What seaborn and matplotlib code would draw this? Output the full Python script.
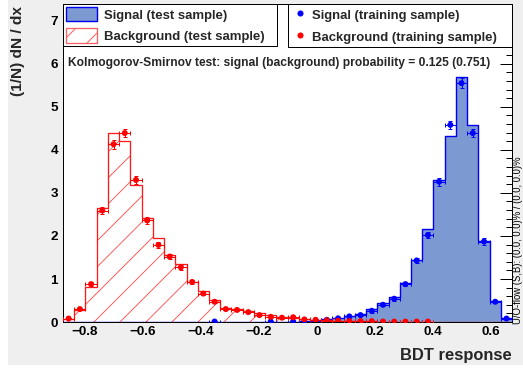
import numpy as np
import pandas as pd
import matplotlib
matplotlib.use("Agg")
import matplotlib.pyplot as plt
import seaborn as sns
from matplotlib.patches import Patch, Rectangle
from matplotlib.lines import Line2D
from matplotlib.ticker import MultipleLocator, FuncFormatter

# ---------------- data ----------------
x_min, x_max, n_bins = -0.876, 0.672, 40

bkg_test = [0.06, 0.28, 0.81, 2.65, 4.40, 4.21, 3.19, 2.41, 1.96, 1.56,
            1.34, 0.92, 0.71, 0.50, 0.33, 0.30, 0.26, 0.20, 0.16, 0.11,
            0.09, 0.07, 0.05, 0.03, 0.02, 0.02, 0.015, 0.01, 0.01, 0.01,
            0.008, 0.005, 0.005, 0, 0, 0, 0, 0, 0, 0]
bkg_train = [0.08, 0.30, 0.88, 2.59, 4.13, 4.39, 3.30, 2.36, 1.79, 1.52,
             1.27, 0.93, 0.66, 0.47, 0.30, 0.28, 0.23, 0.16, 0.12, 0.10,
             0.11, 0.06, 0.05, 0.04, 0.03, 0.02, 0.02, 0.02, 0.01, 0.01,
             0.01, 0.01, 0.01, np.nan, np.nan, np.nan, np.nan, np.nan, np.nan, np.nan]
bkg_err = [0.02, 0.03, 0.05, 0.08, 0.10, 0.10, 0.09, 0.08, 0.07, 0.06,
           0.06, 0.05, 0.04, 0.04, 0.03, 0.03, 0.03, 0.02, 0.02, 0.02,
           0.02, 0.015, 0.015, 0.01, 0.01, 0.01, 0.01, 0.01, 0.01, 0.01,
           0.01, 0.01, 0.01, 0, 0, 0, 0, 0, 0, 0]
sig_test = [0, 0, 0, 0, 0, 0, 0, 0, 0, 0,
            0, 0, 0, 0.005, 0, 0, 0, 0, 0.005, 0.005,
            0.01, 0.015, 0.03, 0.06, 0.10, 0.14, 0.19, 0.30, 0.43, 0.58,
            0.90, 1.44, 2.16, 3.30, 4.33, 5.70, 4.57, 1.89, 0.49, 0.09]
sig_train = [np.nan] * 13 + [0.01] + [np.nan] * 4 + [0.01, np.nan] + \
            [0.01, 0.01, 0.03, 0.05, 0.085, 0.13, 0.16, 0.26, 0.40, 0.54,
             0.88, 1.43, 2.02, 3.26, 4.58, 5.55, 4.39, 1.87, 0.47, 0.08]
sig_err = [0] * 13 + [0.01] + [0] * 4 + [0.01, 0] + \
          [0.01, 0.01, 0.015, 0.02, 0.02, 0.03, 0.03, 0.04, 0.04, 0.05,
           0.05, 0.06, 0.07, 0.09, 0.10, 0.12, 0.10, 0.07, 0.03, 0.02]

ks_text = "Kolmogorov-Smirnov test: signal (background) probability = 0.125 (0.751)"
flow_text = "U/O-flow (S,B): (0.0, 0.0)% / (0.0, 0.0)%"

# ---------------- style ----------------
DPI = 78
P = 72.0 / DPI  # points per pixel

def px(v):
    return v * P

sns.set_theme(style="white")
plt.rcParams["font.family"] = ["Liberation Sans", "DejaVu Sans"]
plt.rcParams["hatch.linewidth"] = px(1.0)
plt.rcParams["axes.unicode_minus"] = True

W, H = 523, 372
fig = plt.figure(figsize=(W / DPI + 0.001, H / DPI + 0.001), dpi=DPI)
fig.patch.set_facecolor("white")
fig.patches.append(Rectangle((8 / W, 7 / H), 1, 1, transform=fig.transFigure,
                             facecolor="#efefef", edgecolor="none", zorder=-10))

ax = fig.add_axes([63 / W, 1 - 322 / H, (512 - 63) / W, (322 - 4) / H])
ax.set_facecolor("white")

edges = np.linspace(x_min, x_max, n_bins + 1)
centers = 0.5 * (edges[:-1] + edges[1:])
bw = edges[1] - edges[0]

df = pd.DataFrame({
    "center": centers,
    "sig_test": sig_test, "bkg_test": bkg_test,
    "sig_train": sig_train, "bkg_train": bkg_train,
    "sig_err": sig_err, "bkg_err": bkg_err,
})

SIG_FILL = "#7d99d1"
SIG_LINE = "#0000ee"
BKG_LINE = "#ff1a1a"
HATCH_C = "#ff6060"
hist_kw = dict(x="center", bins=n_bins, binrange=(x_min, x_max), element="step", ax=ax)

# signal test histogram
sns.histplot(data=df, weights="sig_test", fill=True, color=SIG_FILL, facecolor=SIG_FILL,
             edgecolor="none", alpha=1, linewidth=0, **hist_kw)
sns.histplot(data=df, weights="sig_test", fill=False, color=SIG_LINE,
             linewidth=px(1.4), **hist_kw)
# background test histogram (hatched)
sns.histplot(data=df, weights="bkg_test", fill=True, color=HATCH_C, facecolor="none",
             edgecolor=HATCH_C, hatch="/", linewidth=0, **hist_kw)
sns.histplot(data=df, weights="bkg_test", fill=False, color=BKG_LINE,
             linewidth=px(1.3), **hist_kw)

# training points with error bars
for ycol, ecol, c in [("sig_train", "sig_err", "#0000ff"), ("bkg_train", "bkg_err", "#ff0000")]:
    d = df.dropna(subset=[ycol])
    ax.errorbar(d["center"], d[ycol], yerr=d[ecol], xerr=bw / 2, fmt="none",
                ecolor=c, elinewidth=px(1.0), capsize=px(2), capthick=px(1.0), zorder=4)
    sns.scatterplot(data=d, x="center", y=ycol, color=c, s=px(6) ** 2,
                    edgecolor="none", linewidth=0, ax=ax, legend=False, zorder=5)

# ---------------- axes ----------------
ax.set_xlim(x_min, x_max)
ax.set_ylim(0, 7.39)
ax.xaxis.set_major_locator(MultipleLocator(0.2))
ax.xaxis.set_minor_locator(MultipleLocator(0.05))
ax.yaxis.set_major_locator(MultipleLocator(1))
ax.yaxis.set_minor_locator(MultipleLocator(0.2))

def xfmt(v, pos):
    if abs(v) < 1e-9:
        return "0"
    s = f"{v:.1f}"
    return s.replace("-", "\u2212")

ax.xaxis.set_major_formatter(FuncFormatter(xfmt))
ax.yaxis.set_major_formatter(FuncFormatter(lambda v, p: f"{int(round(v))}"))

ax.tick_params(axis="both", which="both", direction="in", top=True, right=True,
               colors="black", width=px(1.0))
ax.tick_params(axis="x", which="major", length=px(10), pad=px(4))
ax.tick_params(axis="x", which="minor", length=px(5))
ax.tick_params(axis="y", which="major", length=px(12), pad=px(5))
ax.tick_params(axis="y", which="minor", length=px(6))
for lab in ax.get_xticklabels() + ax.get_yticklabels():
    lab.set_fontweight("bold")
    lab.set_fontsize(px(13.5))
for sp in ax.spines.values():
    sp.set_visible(True)
    sp.set_color("black")
    sp.set_linewidth(px(1.0))

ax.set_xlabel("BDT response", fontsize=px(16.5), fontweight="bold", loc="right")
ax.xaxis.set_label_coords(1.0, (322 - 355) / 318)
ax.xaxis.label.set_verticalalignment("center")
ax.set_ylabel("(1/N) dN / dx", fontsize=px(15.5), fontweight="bold", loc="top")
ax.yaxis.set_label_coords((25 - 63) / 449, (322 - 6) / 318)

# ---------------- legends ----------------
FS = px(13.1)
em = 13.1
h1 = [Patch(facecolor=SIG_FILL, edgecolor=SIG_LINE, linewidth=px(1.4)),
      Patch(facecolor="white", edgecolor=HATCH_C, hatch="/", linewidth=px(1.3))]
leg1 = ax.legend(h1, ["Signal (test sample)", "Background (test sample)"],
                 loc="upper left", bbox_to_anchor=(0, 0.8, (277 - 63) / 449, 0.2),
                 mode="expand", borderaxespad=0, frameon=True, fancybox=False,
                 prop={"size": FS, "weight": "bold"},
                 handlelength=31 / em, handleheight=17 / em, handletextpad=7 / em,
                 borderpad=3 / em, labelspacing=7 / em)
leg1.get_frame().set_edgecolor("black")
leg1.get_frame().set_linewidth(px(1.0))
leg1.get_frame().set_alpha(1)
ax.add_artist(leg1)

h2 = [Line2D([], [], marker="o", linestyle="none", color="#0000ff", markersize=px(5)),
      Line2D([], [], marker="o", linestyle="none", color="#ff0000", markersize=px(5))]
x0 = (288 - 63) / 449
leg2 = ax.legend(h2, ["Signal (training sample)", "Background (training sample)"],
                 loc="upper left", bbox_to_anchor=(x0, 0.8, 1 - x0, 0.2),
                 mode="expand", borderaxespad=0, frameon=True, fancybox=False,
                 prop={"size": FS, "weight": "bold"},
                 handlelength=18 / em, handleheight=17 / em, handletextpad=3 / em,
                 borderpad=3 / em, labelspacing=8 / em)
leg2.get_frame().set_edgecolor("black")
leg2.get_frame().set_linewidth(px(1.0))
leg2.get_frame().set_alpha(1)

# ---------------- annotations ----------------
ax.text((68 - 63) / 449, (322 - 63) / 318, ks_text, transform=ax.transAxes,
        fontsize=px(12), fontweight="bold", ha="left", va="center")
fig.text(512.5 / W, 1 - 324 / H, flow_text, rotation=90, fontsize=px(9.5),
         ha="left", va="bottom", color="black")

fig.savefig("out.png", dpi=DPI)
